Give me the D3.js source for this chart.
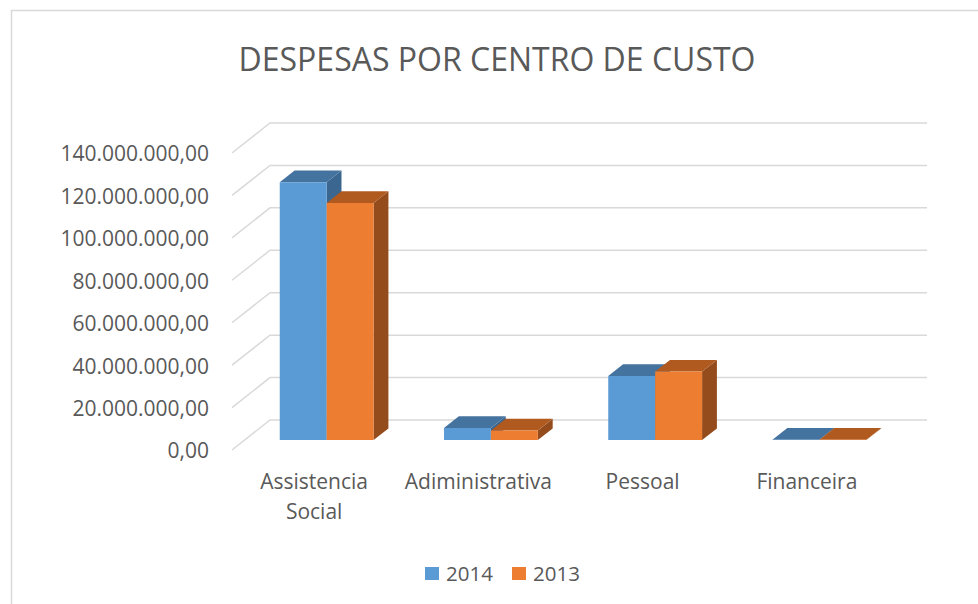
<!DOCTYPE html>
<html>
<head>
<meta charset="utf-8">
<script src="https://cdn.jsdelivr.net/npm/d3@7"></script>
<style>
    body { margin: 0; background: #fff; }
    svg { display: block; font-family: "Open Sans", sans-serif; }
</style>
</head>
<body>
<div id="chart"></div>
<script>
const categories = [["Assistencia", "Social"], ["Adiministrativa"], ["Pessoal"], ["Financeira"]];
const seriesNames = ["2014", "2013"];
const values2014 = [121600000, 5700000, 30200000, 200000];
const values2013 = [111800000, 4500000, 32300000, 200000];
const yTicks = [0, 20000000, 40000000, 60000000, 80000000, 100000000, 120000000, 140000000];

class Bar3DChart {
    constructor(container) {
        this.container = container;
        this.init();
    }

    init() {
        const width = 978;
        const height = 604;

        // projection: front plane origin + depth offset
        const left = 232;
        const plotW = 657;
        const depthX = 38;
        const depthY = -30;
        const t0 = 0.33, t1 = 0.72;

        const svg = d3.select(this.container)
            .append("svg")
            .attr("width", width)
            .attr("height", height);

        // chart border
        svg.append("rect")
            .attr("x", 11.5).attr("y", 10.5)
            .attr("width", 1000).attr("height", 700)
            .attr("fill", "#fff")
            .attr("stroke", "#d9d9d9")
            .attr("stroke-width", 1.5);

        // Title
        svg.append("text")
            .attr("x", 497)
            .attr("y", 71)
            .attr("text-anchor", "middle")
            .attr("font-size", "32px")
            .attr("fill", "#595959")
            .text("DESPESAS POR CENTRO DE CUSTO");

        const y = d3.scaleLinear()
            .domain([0, 140000000])
            .range([450, 153]);

        const x0 = d3.scaleBand()
            .domain(d3.range(categories.length))
            .range([0, plotW])
            .paddingInner(0.4286)
            .paddingOuter(0.2143);

        const x1 = d3.scaleBand()
            .domain(seriesNames)
            .range([0, x0.bandwidth()]);

        const proj = (u, v, t) => [left + u + depthX * t, y(v) + depthY * t];

        const locale = d3.formatLocale({ decimal: ",", thousands: ".", grouping: [3], currency: ["", ""] });
        const fmt = locale.format(",.2f");

        // gridlines: side wall diagonal + back wall horizontal
        const grid = svg.append("g")
            .attr("stroke", "#d9d9d9")
            .attr("stroke-width", 1.5)
            .attr("fill", "none");

        yTicks.forEach(v => {
            const f = proj(0, v, 0);
            const b = proj(0, v, 1);
            const e = proj(plotW, v, 1);
            grid.append("path")
                .attr("d", `M${f[0]},${f[1]}L${b[0]},${b[1]}L${e[0]},${e[1]}`);
        });

        // y labels
        svg.append("g")
            .selectAll("text")
            .data(yTicks)
            .enter()
            .append("text")
            .attr("x", 209)
            .attr("y", d => y(d))
            .attr("dy", "0.4em")
            .attr("text-anchor", "end")
            .attr("font-size", "21px")
            .attr("fill", "#595959")
            .text(d => fmt(d));

        // bars
        const colors = {
            "2014": { front: "#5b9bd5", top: "#44739f", side: "#3a6690" },
            "2013": { front: "#ed7d31", top: "#b05a20", side: "#954c1c" }
        };
        const seriesValues = { "2014": values2014, "2013": values2013 };

        const bars = [];
        categories.forEach((c, i) => {
            seriesNames.forEach(s => {
                bars.push({ i, s, v: seriesValues[s][i] });
            });
        });

        const poly = pts => "M" + pts.map(p => p.join(",")).join("L") + "Z";

        const barG = svg.append("g");
        bars.forEach(d => {
            const u0 = x0(d.i) + x1(d.s);
            const u1 = u0 + x1.bandwidth();
            const c = colors[d.s];
            const g = barG.append("g");

            // right side face
            g.append("path")
                .attr("d", poly([proj(u1, 0, t0), proj(u1, 0, t1), proj(u1, d.v, t1), proj(u1, d.v, t0)]))
                .attr("fill", c.side);
            // top face
            g.append("path")
                .attr("d", poly([proj(u0, d.v, t0), proj(u1, d.v, t0), proj(u1, d.v, t1), proj(u0, d.v, t1)]))
                .attr("fill", c.top);
            // front face
            g.append("path")
                .attr("d", poly([proj(u0, 0, t0), proj(u1, 0, t0), proj(u1, d.v, t0), proj(u0, d.v, t0)]))
                .attr("fill", c.front);
        });

        // category labels
        const catG = svg.append("g")
            .attr("font-size", "21px")
            .attr("fill", "#595959")
            .attr("text-anchor", "middle");

        categories.forEach((lines, i) => {
            const t = catG.append("text")
                .attr("x", left + x0(i) + x0.bandwidth() / 2)
                .attr("y", 489);
            lines.forEach((line, k) => {
                t.append("tspan")
                    .attr("x", left + x0(i) + x0.bandwidth() / 2)
                    .attr("dy", k === 0 ? 0 : 30)
                    .text(line);
            });
        });

        // Legend
        const legend = svg.append("g")
            .attr("transform", "translate(425, 567)");
        const legendX = [0, 87];
        seriesNames.forEach((s, k) => {
            legend.append("rect")
                .attr("x", legendX[k])
                .attr("y", 0)
                .attr("width", 14)
                .attr("height", 13)
                .attr("fill", colors[s].front);
            legend.append("text")
                .attr("x", legendX[k] + 21)
                .attr("y", 6.5)
                .attr("dy", "0.35em")
                .attr("font-size", "20.5px")
                .attr("fill", "#595959")
                .text(s);
        });
    }
}

new Bar3DChart(document.getElementById("chart"));
</script>
</body>
</html>
